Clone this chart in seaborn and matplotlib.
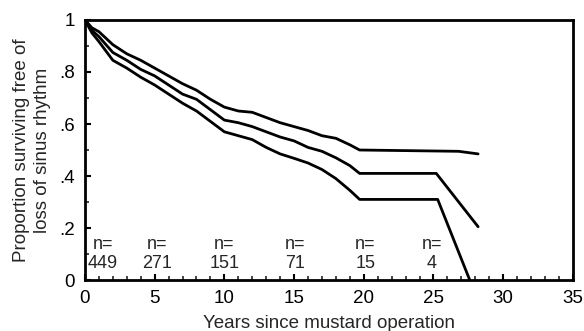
import numpy as np
import pandas as pd
import matplotlib
matplotlib.use('Agg')
import matplotlib.pyplot as plt
from matplotlib.ticker import MultipleLocator
import seaborn as sns

# datos
anios_sup = [0, 0.5, 1, 2, 3, 4, 5, 6, 7, 8, 9, 10, 11, 12, 13, 14, 15, 16, 17, 18, 19, 19.7, 26.8, 28.2]
valores_sup = [1.0, 0.97, 0.955, 0.905, 0.87, 0.845, 0.815, 0.785, 0.755, 0.73, 0.695, 0.665, 0.65,
               0.645, 0.625, 0.605, 0.59, 0.575, 0.555, 0.545, 0.52, 0.5, 0.495, 0.485]

anios_med = [0, 0.5, 1, 2, 3, 4, 5, 6, 7, 8, 9, 10, 11, 12, 13, 14, 15, 16, 17, 18, 19, 19.7, 25.2, 28.2]
valores_med = [1.0, 0.96, 0.936, 0.875, 0.845, 0.81, 0.785, 0.75, 0.715, 0.695, 0.655, 0.615, 0.605,
               0.59, 0.57, 0.55, 0.535, 0.51, 0.495, 0.47, 0.44, 0.41, 0.41, 0.205]

anios_inf = [0, 0.5, 1, 2, 3, 4, 5, 6, 7, 8, 9, 10, 11, 12, 13, 14, 15, 16, 17, 18, 19, 19.7, 25.3, 27.6]
valores_inf = [1.0, 0.95, 0.917, 0.845, 0.815, 0.78, 0.75, 0.715, 0.68, 0.65, 0.61, 0.57, 0.555,
               0.54, 0.51, 0.485, 0.468, 0.45, 0.425, 0.39, 0.345, 0.31, 0.31, 0.0]

pos_n = [1.3, 5.2, 10.0, 15.1, 20.1, 24.9]
etiquetas_n = ['449', '271', '151', '71', '15', '4']

yticks = [0, 0.2, 0.4, 0.6, 0.8, 1.0]
ytick_labels = ['0', '.2', '.4', '.6', '.8', '1']
xticks = [0, 5, 10, 15, 20, 25, 30, 35]

sns.set_style('ticks')
plt.rcParams['font.family'] = ['Liberation Sans', 'DejaVu Sans']

fig = plt.figure(figsize=(5.84, 3.31), dpi=100)
ax = fig.add_axes([0.1455, 0.154, 0.8355, 0.7856])

for xs, ys in [(anios_sup, valores_sup), (anios_med, valores_med), (anios_inf, valores_inf)]:
    df = pd.DataFrame({'x': xs, 'y': ys})
    sns.lineplot(data=df, x='x', y='y', color='black', linewidth=2.0, sort=False,
                 estimator=None, ax=ax)

for x, n in zip(pos_n, etiquetas_n):
    ax.text(x, 0.135, 'n=', ha='center', va='center', fontsize=13)
    ax.text(x, 0.065, n, ha='center', va='center', fontsize=13)

ax.set_xlim(0, 35)
ax.set_ylim(0, 1)
ax.set_xticks(xticks)
ax.set_xticklabels([str(t) for t in xticks])
ax.set_yticks(yticks)
ax.set_yticklabels(ytick_labels)
ax.xaxis.set_minor_locator(MultipleLocator(1))
ax.yaxis.set_minor_locator(MultipleLocator(0.1))
ax.tick_params(axis='both', which='major', direction='in', length=4, width=1.5,
               labelsize=13.5, colors='black', pad=7)
ax.tick_params(axis='both', which='minor', direction='in', length=3, width=1.2)
ax.tick_params(top=False, right=False, which='both')

for sp in ax.spines.values():
    sp.set_linewidth(2)
    sp.set_color('black')

ax.set_xlabel('Years since mustard operation', fontsize=13.5, labelpad=6)
ax.set_ylabel('Proportion surviving free of\nloss of sinus rhythm', fontsize=13.5,
              labelpad=6, linespacing=1.3)

fig.savefig('out.png', dpi=100)
